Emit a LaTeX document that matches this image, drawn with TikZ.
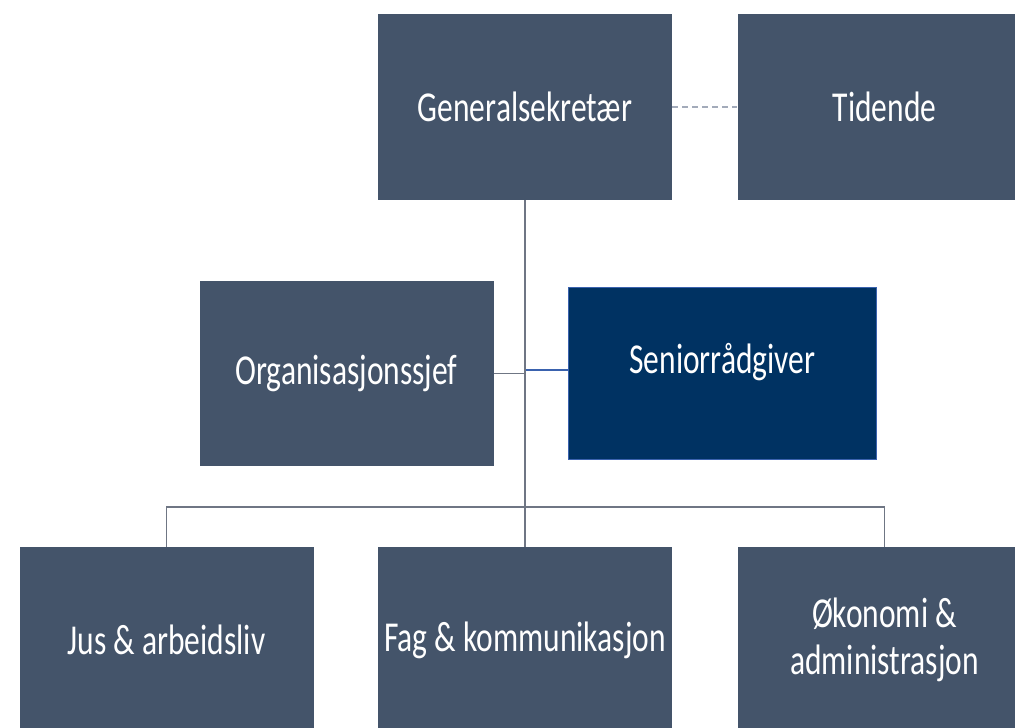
\documentclass[tikz,border=0pt]{standalone}
\usepackage{fontspec}
\setmainfont{Carlito}
\usetikzlibrary{positioning}
\definecolor{unitgray}{HTML}{44546A}
\definecolor{unitnavy}{HTML}{003262}
\definecolor{unitblue}{HTML}{3A62AE}
\definecolor{linkgray}{HTML}{6F7684}
\definecolor{dotgray}{HTML}{A3ABBA}
\newcommand{\tallname}[1]{\scalebox{1.05}[1.42]{#1}}
\tikzset{
    unitnode/.style = {rectangle, draw=none, align=center, fill=unitgray, text=white, minimum width=294pt, minimum height=186pt, inner sep=0pt},
    unitnoden/.style = {rectangle, line width=1.6pt, draw=unitblue, align=center, fill=unitnavy, text=white, minimum width=308pt, minimum height=172pt, inner sep=0pt},
    linkn/.style = {-, line width=1.5pt, linkgray},
    linkb/.style = {-, line width=2pt, unitblue},
    linkd/.style = {-, line width=1.8pt, dotgray, dash pattern=on 6pt off 4pt}, % staff
}

\begin{document}
\begin{tikzpicture}[x=1pt, y=1pt, font=\fontsize{30}{38}\selectfont]
  \useasboundingbox (0,0) rectangle (1015,728);
  % top row
  \node[unitnode] (gs) at (525,621) {\tallname{Generalsekretær}};
  \node[unitnode] (tid) at (884.5,621) {\tallname{Tidende}};
  % middle row
  \node[unitnode, minimum height=185pt] (org) at (346.5,354.5) {\tallname{Organisasjonssjef}};
  \node[unitnoden, text depth=30pt] (sen) at (722.5,354.5) {\tallname{Seniorrådgiver}};
  % bottom row
  \node[unitnode] (jus) at (166.5,88) {\tallname{Jus \& arbeidsliv}};
  \node[unitnode] (fag) at (525,88) {\tallname{Fag \& kommunikasjon}};
  \node[unitnode] (oko) at (884.5,88) {\tallname{Økonomi \&}\\[9pt]\tallname{administrasjon}};
  % lines
  \draw[linkd] (gs.east) -- (tid.west);
  \draw[linkn] (gs.south) -- (fag.north);
  \draw[linkn] (org.east) -- (org.east -| gs.south);
  \draw[linkb] ([yshift=3pt]sen.west -| gs.south) ++(1pt,0) -- ([yshift=3pt]sen.west);
  \draw[linkn] (jus.north) -- ++(0,40) -| (oko.north);
\end{tikzpicture}
\end{document}
